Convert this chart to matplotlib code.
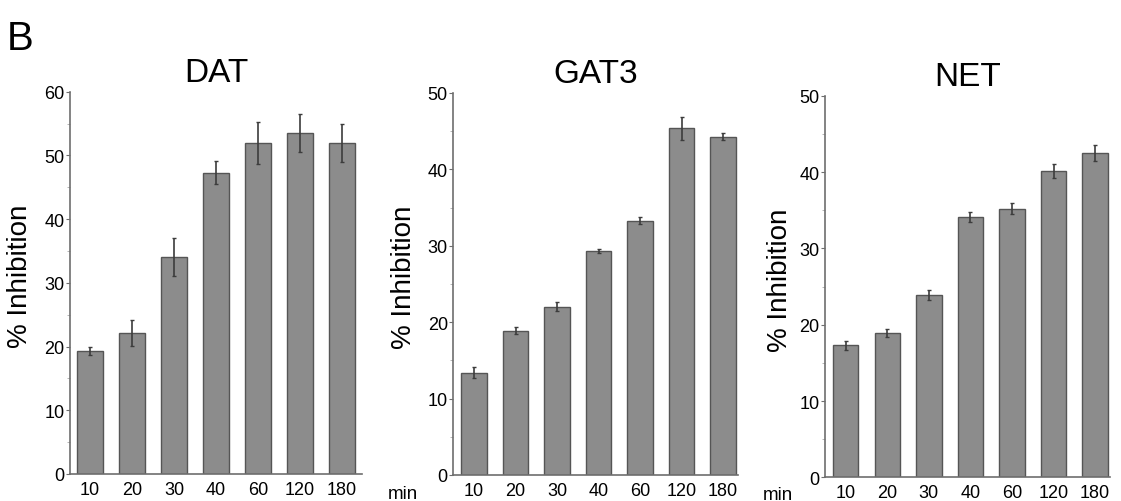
import matplotlib
matplotlib.use("Agg")
import matplotlib.pyplot as plt
import numpy as np
from matplotlib.ticker import MultipleLocator

plt.rcParams["font.family"] = ["Liberation Sans", "DejaVu Sans"]

times = ["10", "20", "30", "40", "60", "120", "180"]

dat_mean = [19.3, 22.1, 34.1, 47.3, 51.9, 53.5, 51.9]
dat_err = [0.6, 2.0, 3.0, 1.8, 3.3, 3.0, 3.0]

gat3_mean = [13.4, 18.9, 22.0, 29.3, 33.3, 45.4, 44.3]
gat3_err = [0.7, 0.5, 0.6, 0.3, 0.5, 1.5, 0.5]

net_mean = [17.3, 18.9, 23.9, 34.1, 35.2, 40.1, 42.5]
net_err = [0.6, 0.5, 0.7, 0.7, 0.7, 0.9, 1.0]

panels = [
    ("DAT", dat_mean, dat_err, 60, [0.0624, 0.0538, 0.2605, 0.7616], (-0.48, 6.48), -0.127),
    ("GAT3", gat3_mean, gat3_err, 50, [0.4044, 0.0518, 0.2540, 0.7610], (-0.5, 6.36), -0.128),
    ("NET", net_mean, net_err, 50, [0.7360, 0.0472, 0.2542, 0.7600], (-0.5, 6.36), -0.112),
]

fig = plt.figure(figsize=(11.21, 5.02), dpi=100)
axis_color = "#6e6e6e"

for i, (name, mean, err, ymax, rect, xlim, label_x) in enumerate(panels):
    ax = fig.add_axes(rect)
    x = np.arange(len(times))
    ax.bar(x, mean, width=0.61, color="#8c8c8c", edgecolor="#555555", linewidth=1.0)
    ax.errorbar(x, mean, yerr=err, fmt="none", ecolor="#3c3c3c", elinewidth=1.2, capsize=1.5)
    ax.set_xlim(*xlim)
    ax.set_ylim(0, ymax)
    ax.yaxis.set_major_locator(MultipleLocator(10))
    ax.yaxis.set_minor_locator(MultipleLocator(5))
    ax.set_xticks(x, times)
    ax.tick_params(axis="x", length=0, pad=5, labelsize=13)
    ax.tick_params(axis="y", which="major", length=3, width=0.8, color=axis_color,
                   pad=1, labelsize=13)
    ax.tick_params(axis="y", which="minor", length=2, width=0.6, color="#aaaaaa")
    for side in ("top", "right"):
        ax.spines[side].set_visible(False)
    for side in ("left", "bottom"):
        ax.spines[side].set_color(axis_color)
        ax.spines[side].set_linewidth(1.2)
    ax.set_title(name, fontsize=24, pad=8)
    ax.set_ylabel("% Inhibition", fontsize=20)
    ax.yaxis.set_label_coords(label_x, 0.52)
    if i < 2:
        ax.text(1.14, -0.05, "min", transform=ax.transAxes, fontsize=13.5,
                ha="center", va="center")

fig.text(0.006, 0.9004, "B", fontsize=29, ha="left", va="baseline")

fig.savefig("out.png", dpi=100)
